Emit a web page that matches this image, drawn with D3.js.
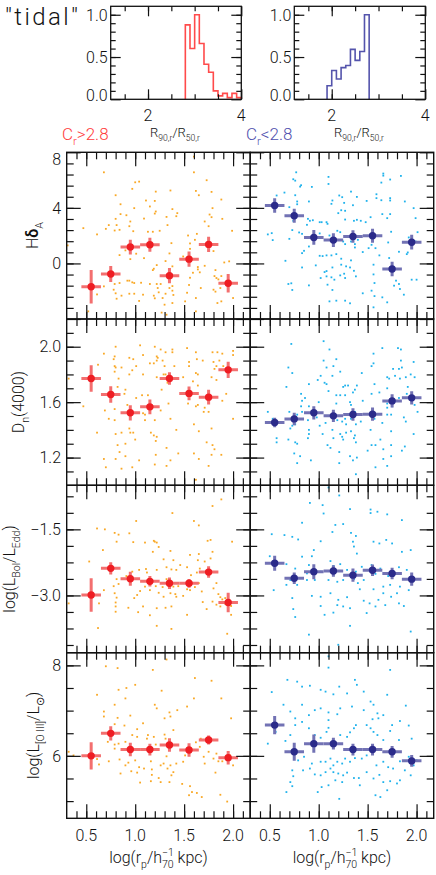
<!DOCTYPE html>
<html><head><meta charset="utf-8">
<script src="https://cdn.jsdelivr.net/npm/d3@7"></script>
<style>
body{margin:0;background:#fff}
svg{display:block}
text{font-family:Roboto,"DejaVu Sans","Liberation Sans",sans-serif;font-weight:300;fill:#111}
</style>
</head><body>
<svg id="c" width="436" height="875"></svg>
<script>
// ================= DATA =================
const binX = [0.55,0.75,0.95,1.15,1.35,1.55,1.75,1.95];
const binHalf = [0.1,0.1,0.1,0.1,0.1,0.1,0.1,0.1];

const hdRedMean = [-1.68,-0.76,1.18,1.34,-0.88,0.31,1.37,-1.43];
const hdRedErr  = [1.2,0.57,0.53,0.5,0.55,0.55,0.55,0.67];
const hdBlueMean= [4.17,3.43,1.87,1.68,1.94,1.99,-0.40,1.53];
const hdBlueErr = [0.53,0.5,0.53,0.5,0.45,0.5,0.53,0.53];
const dnRedMean = [1.771,1.655,1.523,1.566,1.771,1.663,1.636,1.833];
const dnRedErr  = [0.096,0.06,0.055,0.053,0.045,0.05,0.053,0.058];
const dnBlueMean= [1.453,1.479,1.523,1.501,1.511,1.513,1.609,1.631];
const dnBlueErr = [0.035,0.045,0.048,0.045,0.045,0.048,0.048,0.048];
const edRedMean = [-2.99,-2.385,-2.62,-2.68,-2.725,-2.725,-2.47,-3.16];
const edRedErr  = [0.38,0.14,0.16,0.12,0.13,0.1,0.13,0.22];
const edBlueMean= [-2.27,-2.61,-2.46,-2.445,-2.54,-2.43,-2.50,-2.63];
const edBlueErr = [0.17,0.13,0.17,0.13,0.15,0.13,0.13,0.15];
const o3RedMean = [6.0,6.497,6.14,6.14,6.24,6.13,6.35,5.96];
const o3RedErr  = [0.3,0.16,0.15,0.13,0.15,0.15,0.1,0.15];
const o3BlueMean= [6.68,6.09,6.27,6.27,6.14,6.14,6.09,5.89];
const o3BlueErr = [0.2,0.2,0.2,0.13,0.13,0.13,0.13,0.13];

const histRedEdges = [2.8,2.9,3.0,3.1,3.2,3.3,3.4,3.5,3.6,3.7,3.8,3.9,4.0];
const histRedFrac  = [0.88,0.60,1.0,0.66,0.415,0.32,0.10,0.04,0.07,0.02,0.07,0.02];
const histBlueEdges= [1.9,2.0,2.1,2.2,2.3,2.4,2.5,2.6,2.7,2.8];
const histBlueFrac = [0.16,0.34,0.24,0.375,0.40,0.59,0.46,0.565,1.0];

const xMajor = [0.5,1.0,1.5,2.0];
const xTickLabels = ["0.5","1.0","1.5","2.0"];
const hdMajor = [-4,0,4,8];   const hdTickVals=[8,4,0];         const hdTickLabels=["8","4","0"];
const dnMajor = [1.2,1.6,2.0]; const dnTickVals=[2.0,1.6,1.2];  const dnTickLabels=["2.0","1.6","1.2"];
const edMajor = [-3.0,-1.5];  const edTickVals=[-1.5,-3.0];     const edTickLabels=["\u22121.5","\u22123.0"];
const o3Major = [6,8];        const o3TickVals=[8,6];           const o3TickLabels=["8","6"];
const histYVals=[1.0,0.5,0.0]; const histYLabels=["1.0","0.5","0.0"];
const histXVals=[2,4];         const histXLabels=["2","4"];

const hdRedPts = [[1.60,7.69],[0.68,6.56],[1.60,6.56],[1.00,5.84],[1.04,5.89],[1.73,5.99],[0.97,5.37],[1.21,5.17],[1.36,5.25],[1.62,5.22],[1.78,5.15],[0.80,4.91],[1.65,4.91],[1.11,4.53],[1.20,4.50],[1.88,4.60],[0.85,4.26],[1.15,4.10],[0.99,3.98],[1.38,3.91],[1.79,3.98],[1.21,3.74],[1.20,3.59],[0.91,3.47],[0.85,3.55],[1.43,3.62],[0.80,3.21],[1.09,3.23],[1.32,3.35],[1.42,3.40],[1.76,3.52],[1.89,3.21],[0.95,3.02],[1.71,3.02],[1.78,3.33],[0.73,2.76],[0.81,2.76],[0.84,2.42],[0.79,2.37],[0.94,2.68],[1.33,2.76],[1.75,2.68],[0.47,2.54],[0.70,2.49],[0.98,2.32],[1.13,2.28],[1.18,2.28],[1.25,2.35],[1.63,2.13],[1.99,2.35],[0.61,2.09],[1.54,2.01],[1.61,1.70],[1.56,1.44],[1.37,1.46],[1.01,0.70],[1.35,0.72],[1.09,0.38],[1.49,0.50],[0.84,0.60],[0.90,0.94],[1.56,1.05],[1.80,0.89],[0.95,0.31],[1.22,-0.12],[1.31,0.17],[1.19,-0.38],[1.18,-0.48],[1.38,-0.21],[1.64,-0.26],[1.64,-0.43],[1.71,-0.17],[1.59,-0.67],[1.66,-0.64],[1.91,0.07],[1.96,0.15],[1.82,-0.48],[1.81,-0.91],[1.83,-1.05],[1.85,-1.15],[0.68,-1.65],[0.79,-1.48],[0.82,-0.77],[0.92,-1.24],[0.94,-1.24],[0.97,-1.36],[0.99,-1.41],[0.84,-1.41],[1.06,-1.39],[1.15,-1.48],[1.22,-1.48],[1.26,-1.48],[1.38,-1.63],[1.56,-1.03],[1.55,-1.55],[1.88,-0.91],[0.61,-2.23],[0.78,-1.89],[0.80,-2.15],[0.86,-2.32],[0.94,-2.18],[0.99,-2.18],[1.08,-2.25],[1.19,-2.32],[1.23,-1.77],[1.24,-2.08],[1.31,-2.18],[1.35,-1.77],[1.38,-1.96],[1.39,-2.27],[1.53,-2.11],[1.67,-1.77],[1.80,-1.89],[1.82,-2.03],[1.87,-1.77],[1.28,-2.49],[1.20,-2.51],[1.30,-2.97],[1.38,-2.85],[0.81,-2.54],[1.04,-2.70],[1.51,-2.73],[1.62,-2.49],[1.88,-2.73],[2.00,-2.49],[1.84,-2.85],[0.52,-3.45],[1.27,-3.54],[1.32,-3.69],[1.62,-3.45],[0.31,1.30]];

const hdBluePts = [[0.77,6.56],[0.74,6.06],[0.76,5.96],[0.81,5.53],[0.82,5.63],[0.93,5.51],[1.10,6.23],[1.10,5.72],[1.66,6.47],[1.66,6.32],[1.84,6.30],[1.73,6.04],[1.64,5.82],[0.65,5.10],[0.57,4.89],[0.76,4.91],[0.90,4.46],[0.78,4.46],[0.78,4.26],[0.70,4.05],[1.13,4.29],[1.14,4.53],[1.21,4.89],[1.24,4.77],[1.33,5.17],[1.39,4.79],[1.26,4.36],[1.35,4.19],[1.27,3.79],[1.23,3.83],[1.20,3.62],[1.49,4.50],[1.59,4.98],[1.59,4.70],[1.64,4.55],[1.73,4.70],[1.73,4.53],[1.88,4.46],[1.97,3.98],[1.99,3.26],[1.73,3.55],[1.65,3.55],[1.70,3.26],[1.53,3.33],[1.48,2.97],[1.43,3.07],[1.39,3.14],[1.36,3.07],[1.27,3.16],[1.01,2.97],[1.03,2.97],[1.08,2.97],[1.09,2.85],[0.94,3.11],[0.89,3.21],[0.91,3.07],[0.74,3.07],[0.88,2.78],[0.73,2.40],[0.80,2.23],[0.83,2.13],[0.52,2.18],[0.48,2.09],[0.53,1.68],[0.70,1.77],[1.01,2.16],[1.19,2.35],[1.22,2.25],[1.11,2.01],[1.25,1.58],[1.27,1.39],[1.33,1.58],[1.37,1.39],[1.37,1.15],[1.40,1.70],[1.45,0.82],[1.54,1.34],[1.58,1.10],[1.51,1.10],[1.71,1.51],[1.74,2.28],[1.82,0.84],[1.90,0.67],[1.91,0.79],[1.92,1.87],[2.01,2.25],[1.99,1.58],[0.85,0.91],[0.83,0.74],[0.90,1.22],[1.01,0.55],[1.04,0.53],[1.08,0.58],[1.13,0.58],[1.18,0.67],[1.23,0.34],[1.33,0.22],[1.14,-0.29],[1.28,-0.21],[1.23,-0.09],[1.32,-0.29],[1.36,-0.53],[1.16,-1.17],[1.08,-0.93],[1.06,-0.62],[1.08,-0.55],[1.13,-1.00],[1.02,-1.05],[1.22,-0.86],[1.26,-0.74],[1.27,-1.05],[1.38,-0.93],[1.56,-0.09],[1.62,0.58],[1.72,0.39],[1.56,-0.79],[1.57,-1.41],[1.77,-1.60],[1.79,-1.24],[1.82,-1.48],[1.83,-1.84],[1.87,-2.25],[1.95,-1.17],[2.00,-1.17],[0.83,-0.29],[0.97,-0.14],[0.66,0.19],[0.69,-1.48],[0.72,-1.43],[0.73,-1.91],[0.90,-1.58],[1.09,-1.53],[1.14,-1.91],[1.11,-2.73],[1.18,-2.68],[1.27,-2.68],[1.32,-2.87],[1.45,-2.15],[1.54,-1.96],[1.57,-2.35],[1.65,-2.44],[1.70,-2.80],[1.56,-3.16]];

const dnRedPts = [[1.05,2.01],[1.20,2.00],[1.26,1.98],[0.80,2.00],[1.38,1.98],[1.53,1.99],[0.68,1.95],[0.79,1.93],[0.78,1.91],[1.08,1.94],[1.22,1.93],[1.23,1.92],[1.22,1.90],[1.31,1.96],[1.38,1.96],[1.62,1.96],[1.79,1.96],[1.84,1.96],[1.89,1.95],[2.00,1.97],[2.00,1.94],[0.94,1.92],[0.98,1.91],[1.19,1.88],[1.28,1.90],[1.55,1.89],[1.63,1.91],[1.69,1.90],[1.80,1.89],[1.86,1.90],[0.62,1.87],[0.79,1.86],[0.80,1.85],[0.86,1.85],[1.01,1.86],[0.97,1.83],[0.94,1.80],[0.79,1.82],[1.15,1.88],[1.30,1.86],[1.31,1.80],[1.40,1.86],[1.55,1.86],[1.62,1.81],[1.64,1.80],[1.83,1.86],[1.81,1.84],[1.90,1.86],[1.08,1.80],[1.22,1.78],[1.29,1.80],[1.49,1.78],[1.78,1.78],[1.83,1.76],[0.83,1.77],[1.33,1.74],[1.59,1.75],[1.64,1.72],[0.82,1.71],[0.90,1.69],[0.89,1.66],[1.01,1.63],[1.07,1.65],[1.13,1.65],[1.27,1.69],[1.34,1.59],[1.54,1.59],[1.62,1.57],[1.64,1.58],[1.71,1.56],[1.70,1.53],[1.75,1.53],[1.89,1.61],[1.93,1.66],[2.00,1.48],[0.47,1.57],[0.69,1.54],[0.79,1.55],[0.92,1.58],[0.73,1.48],[0.79,1.47],[1.08,1.52],[1.10,1.51],[1.20,1.47],[1.10,1.47],[1.26,1.54],[1.36,1.48],[1.60,1.44],[1.78,1.41],[1.42,1.40],[1.65,1.39],[0.61,1.38],[0.80,1.37],[0.86,1.38],[0.94,1.41],[0.95,1.38],[0.98,1.38],[1.16,1.38],[1.19,1.36],[1.22,1.35],[1.21,1.32],[0.82,1.29],[0.90,1.30],[1.00,1.33],[1.73,1.31],[1.79,1.29],[1.81,1.26],[0.84,1.24],[0.90,1.21],[1.44,1.23],[1.60,1.23],[1.32,1.27],[1.65,1.19],[1.88,1.22],[1.78,1.22],[0.68,1.19],[0.80,1.19],[1.04,1.18],[1.21,1.22],[1.36,1.18],[1.20,1.15],[1.32,1.14],[1.75,1.14],[0.70,1.13],[0.86,1.12],[0.97,1.13],[1.62,1.04],[0.32,1.77]];

const dnBluePts = [[1.05,2.04],[0.72,2.02],[1.11,1.98],[1.65,1.99],[1.81,1.99],[1.84,1.98],[1.56,1.95],[1.84,1.90],[1.97,1.89],[1.18,1.91],[1.05,1.90],[1.15,1.86],[1.08,1.85],[0.69,1.85],[0.73,1.81],[1.56,1.88],[1.54,1.86],[1.76,1.84],[1.82,1.84],[1.85,1.85],[1.22,1.82],[1.44,1.81],[1.02,1.79],[1.14,1.79],[0.99,1.76],[1.06,1.74],[1.08,1.73],[0.90,1.73],[0.67,1.71],[1.27,1.72],[1.25,1.71],[1.30,1.72],[1.39,1.72],[1.37,1.69],[1.35,1.67],[1.57,1.73],[1.70,1.78],[1.72,1.77],[1.78,1.79],[1.83,1.77],[1.89,1.78],[1.94,1.80],[1.98,1.78],[1.70,1.70],[1.91,1.71],[1.82,1.63],[1.90,1.66],[0.82,1.66],[0.86,1.63],[0.83,1.61],[1.00,1.60],[1.10,1.68],[1.18,1.65],[1.22,1.65],[1.27,1.65],[1.32,1.60],[1.33,1.58],[1.45,1.61],[1.54,1.66],[1.62,1.67],[1.70,1.59],[1.70,1.56],[1.75,1.57],[1.98,1.58],[2.01,1.53],[0.48,1.53],[0.70,1.53],[0.82,1.57],[0.90,1.57],[0.83,1.53],[0.78,1.51],[0.89,1.47],[0.98,1.49],[1.18,1.59],[1.19,1.47],[1.24,1.46],[1.27,1.48],[1.28,1.44],[1.33,1.48],[1.37,1.53],[1.38,1.44],[1.43,1.46],[1.57,1.48],[1.65,1.45],[1.70,1.51],[1.74,1.51],[1.87,1.49],[1.89,1.46],[0.53,1.48],[0.71,1.41],[0.73,1.43],[0.76,1.44],[0.90,1.40],[0.90,1.37],[0.89,1.34],[1.01,1.43],[1.07,1.45],[1.04,1.37],[1.14,1.40],[1.15,1.34],[1.22,1.37],[1.24,1.35],[1.28,1.38],[1.33,1.39],[1.37,1.36],[1.36,1.34],[1.38,1.31],[1.53,1.40],[1.74,1.39],[1.97,1.37],[0.57,1.34],[0.57,1.31],[0.69,1.33],[0.76,1.31],[0.78,1.30],[0.75,1.23],[0.81,1.21],[0.78,1.16],[0.92,1.18],[1.09,1.29],[1.12,1.27],[1.21,1.24],[1.25,1.33],[1.32,1.21],[1.35,1.18],[1.39,1.20],[1.50,1.25],[1.54,1.29],[1.58,1.29],[1.63,1.33],[1.66,1.26],[1.66,1.19],[1.74,1.29],[1.74,1.21],[1.85,1.25],[1.88,1.28],[1.21,1.16],[1.58,1.13],[1.70,1.14],[1.38,1.08]];

const edRedPts = [[0.61,-1.48],[0.69,-1.50],[0.53,-2.23],[0.67,-1.97],[0.79,-1.58],[0.83,-1.62],[0.81,-1.78],[0.98,-1.79],[0.94,-1.59],[1.01,-1.31],[1.10,-1.80],[1.19,-1.76],[1.20,-1.78],[1.22,-1.80],[1.24,-1.90],[1.38,-1.13],[1.36,-1.99],[1.18,-2.01],[1.29,-2.18],[1.39,-2.20],[1.60,-1.31],[1.65,-1.41],[1.79,-0.97],[1.88,-0.82],[1.74,-1.76],[1.77,-1.74],[1.79,-2.01],[1.77,-2.16],[1.71,-2.23],[1.64,-2.20],[1.65,-2.06],[1.56,-2.08],[1.63,-2.48],[1.66,-2.39],[1.57,-2.54],[1.53,-2.36],[1.46,-2.31],[1.42,-2.42],[1.37,-2.41],[1.32,-2.36],[1.22,-2.42],[1.11,-2.40],[1.12,-2.48],[1.04,-2.42],[0.97,-2.46],[0.91,-2.56],[0.81,-2.63],[0.83,-2.74],[0.78,-2.79],[0.79,-2.95],[0.81,-3.05],[0.80,-3.16],[0.68,-2.88],[0.63,-3.18],[0.62,-3.74],[0.80,-3.25],[0.80,-3.37],[0.93,-3.28],[0.99,-3.06],[1.02,-2.99],[1.05,-2.90],[1.10,-2.80],[1.15,-2.88],[1.21,-2.79],[1.24,-2.94],[1.28,-2.81],[1.29,-3.03],[1.36,-2.95],[1.32,-2.63],[1.41,-2.97],[1.39,-2.80],[1.44,-2.79],[1.53,-2.86],[1.56,-2.88],[1.61,-2.81],[1.57,-2.72],[1.65,-2.72],[1.68,-2.91],[1.80,-2.84],[1.83,-2.72],[1.85,-2.97],[1.87,-3.04],[1.89,-3.09],[1.92,-3.06],[1.83,-3.21],[1.92,-3.19],[1.87,-3.25],[1.98,-3.24],[1.98,-3.44],[1.79,-3.14],[1.69,-3.15],[1.73,-3.31],[1.42,-3.03],[1.37,-3.25],[1.49,-3.01],[1.53,-3.44],[1.31,-3.28],[1.22,-3.29],[1.15,-3.45],[1.22,-3.69],[1.37,-3.76],[1.94,-3.87],[1.77,-2.47],[1.73,-2.44],[1.03,-3.38],[1.08,-3.25],[0.32,-3.18],[1.99,-1.78]];

const edBluePts = [[1.10,-0.55],[1.21,-0.73],[0.91,-0.90],[1.04,-0.95],[1.32,-1.04],[1.53,-1.05],[1.60,-1.10],[1.70,-1.16],[1.85,-1.29],[1.53,-1.13],[0.83,-1.35],[1.05,-1.14],[1.17,-1.40],[1.25,-1.38],[0.52,-1.61],[0.65,-1.63],[0.73,-1.67],[0.79,-1.73],[0.95,-1.97],[1.02,-1.77],[1.14,-1.56],[1.33,-1.58],[1.38,-1.65],[1.35,-1.78],[1.36,-1.89],[1.39,-2.05],[1.56,-1.78],[1.62,-1.82],[1.69,-1.74],[1.75,-1.82],[1.85,-2.01],[1.94,-1.97],[0.50,-2.11],[0.67,-2.29],[0.76,-2.39],[0.83,-2.12],[0.90,-2.31],[0.93,-2.11],[0.88,-2.50],[1.02,-2.46],[1.12,-2.22],[1.15,-2.33],[1.22,-2.29],[1.29,-2.42],[1.38,-2.46],[1.44,-2.35],[1.54,-2.31],[1.58,-2.51],[1.63,-2.39],[1.71,-2.56],[1.82,-2.36],[1.90,-2.42],[0.54,-2.88],[0.67,-2.76],[0.71,-2.65],[0.78,-2.76],[0.88,-2.65],[0.96,-2.65],[1.10,-2.65],[1.19,-2.69],[1.25,-2.65],[1.36,-2.63],[1.40,-2.72],[1.46,-2.65],[1.56,-2.86],[1.66,-2.80],[1.73,-2.76],[1.83,-2.80],[1.92,-2.88],[0.73,-3.06],[0.74,-3.31],[0.93,-3.01],[1.02,-3.03],[1.12,-2.95],[1.20,-3.10],[1.29,-3.04],[1.42,-2.86],[1.46,-3.12],[1.52,-3.18],[1.61,-3.10],[1.66,-2.95],[1.68,-3.22],[1.74,-3.03],[1.80,-2.95],[1.82,-3.18],[1.87,-3.24],[1.58,-3.25],[1.49,-3.40],[1.32,-3.29],[1.25,-3.25],[1.19,-3.22],[1.06,-3.44],[1.15,-3.39],[1.02,-3.24],[0.76,-3.49],[1.32,-3.69],[0.90,-3.89],[1.20,-4.12],[1.94,-3.82]];

const o3RedPts = [[0.70,7.98],[0.82,7.94],[1.32,8.13],[0.61,7.35],[0.68,6.98],[0.68,6.87],[0.79,7.13],[0.83,7.46],[0.91,7.50],[0.90,7.27],[1.00,7.57],[0.95,6.89],[0.89,6.67],[0.82,6.84],[0.79,6.70],[1.18,7.90],[1.20,7.13],[1.22,7.05],[1.27,7.44],[1.30,6.83],[1.35,6.96],[1.36,6.87],[1.43,7.01],[1.39,6.57],[1.30,6.47],[1.31,6.38],[1.21,6.25],[1.13,6.46],[1.12,6.38],[1.02,6.42],[0.97,6.46],[1.02,6.59],[1.08,6.72],[0.90,6.31],[0.83,6.27],[0.79,6.25],[0.72,6.31],[0.61,5.93],[0.63,5.81],[0.73,5.88],[0.84,5.92],[0.93,5.85],[0.90,5.79],[1.00,5.90],[0.96,5.66],[1.02,5.63],[1.04,5.75],[1.09,5.72],[1.17,5.70],[1.17,5.58],[1.24,5.51],[1.26,5.79],[1.29,5.83],[1.32,5.99],[1.33,5.72],[1.36,5.79],[1.37,5.57],[1.39,5.64],[1.42,5.83],[1.49,5.87],[1.51,6.01],[1.55,6.24],[1.62,6.30],[1.66,6.20],[1.67,6.38],[1.70,5.98],[1.60,7.27],[1.61,7.72],[1.78,7.66],[1.88,7.27],[1.98,6.83],[1.71,5.83],[1.75,6.09],[1.80,5.94],[1.83,6.05],[1.85,5.88],[1.89,5.88],[1.97,6.01],[2.00,5.79],[1.16,5.88],[0.85,5.61],[1.05,5.41],[1.16,5.44],[1.26,5.42],[1.35,5.42],[1.56,5.33],[1.58,5.20],[1.63,5.18],[1.68,5.09],[1.55,5.13],[1.48,5.38],[1.82,5.63],[1.87,5.14],[1.94,4.99],[0.37,6.01],[0.32,6.09],[0.79,6.16],[1.53,7.09],[1.19,6.42]];

const o3BluePts = [[1.10,8.20],[1.10,7.95],[0.52,7.41],[0.68,7.68],[0.78,7.64],[0.83,7.53],[0.91,7.55],[1.02,7.46],[1.07,7.42],[1.15,7.36],[1.21,7.53],[1.37,7.68],[1.39,7.57],[1.29,7.38],[1.46,7.42],[1.70,7.35],[1.73,7.90],[0.64,7.13],[0.71,6.98],[0.76,6.83],[0.83,7.13],[0.96,7.01],[0.90,6.90],[1.02,7.05],[1.10,6.96],[1.19,6.92],[1.22,7.05],[1.34,7.09],[1.46,7.01],[1.53,7.20],[1.56,7.13],[1.60,6.94],[1.61,6.83],[1.66,6.90],[1.55,6.81],[1.75,6.68],[1.83,6.77],[1.89,7.11],[1.92,6.67],[1.49,6.68],[1.53,6.61],[1.56,6.53],[1.60,6.46],[1.66,6.35],[1.73,6.55],[1.82,6.35],[1.95,6.38],[1.38,6.68],[1.36,6.61],[1.32,6.52],[1.29,6.42],[1.22,6.46],[1.10,6.79],[1.10,6.62],[1.08,6.53],[1.02,6.40],[0.96,6.46],[0.90,6.61],[0.83,6.75],[0.76,6.68],[0.71,6.46],[0.66,6.33],[0.56,6.53],[0.48,6.27],[0.74,6.10],[0.79,5.90],[0.85,5.98],[0.93,5.83],[1.02,5.87],[1.07,5.87],[1.12,5.94],[1.15,5.79],[1.19,5.87],[1.24,5.83],[1.27,5.94],[1.32,5.87],[1.37,5.95],[1.44,5.94],[1.49,6.01],[1.59,5.79],[1.66,5.87],[1.71,5.75],[1.76,5.72],[1.83,5.88],[1.92,5.98],[1.97,5.79],[2.00,5.90],[0.73,5.68],[0.74,5.55],[0.71,5.42],[0.73,5.33],[0.67,5.20],[0.84,5.68],[0.91,5.72],[0.96,5.59],[1.02,5.57],[1.07,5.64],[1.12,5.72],[1.15,5.64],[1.20,5.61],[1.25,5.57],[1.29,5.63],[1.36,5.51],[1.41,5.51],[1.42,5.35],[1.24,5.42],[1.17,5.46],[1.10,5.35],[1.03,5.31],[1.49,5.64],[1.56,5.50],[1.62,5.58],[1.66,5.42],[1.70,5.24],[1.73,5.44],[1.80,5.39],[1.83,5.46],[1.88,5.68],[1.94,5.57],[1.58,5.13],[1.63,5.09],[1.21,5.05],[0.99,5.20]];

// ================= LAYOUT / STYLE =================
const svg = d3.select("#c");
const COL = [[66.7,250.2],[250.2,433.7]];
const ROWS = [[152.3,319],[319,485.3],[485.3,652.7],[652.7,818.3]];
const XDOM = [0.3,2.175];
const RED_PT="#f9a825", BLUE_PT="#1fb2ec";
const RED_DOT="#ee1d23", RED_ERR="#f36f6f";
const BLUE_DOT="#2b2b8a", BLUE_ERR="#7272b4";

function minorVals(dom, step, base){
  const lo=Math.min(dom[0],dom[1]), hi=Math.max(dom[0],dom[1]);
  const out=[];
  for(let k=Math.ceil((lo-base)/step-1e-6); base+k*step<=hi+1e-9; k++) out.push(+(base+k*step).toFixed(6));
  return out.filter(v=>v>lo+1e-6 && v<hi-1e-6);
}
function styleAxis(s, w){
  s.select(".domain").remove();
  s.selectAll("text").remove();
  s.selectAll("line").attr("stroke","#111").attr("stroke-width",w||1.2);
}
function inwardTicks(g, x, y, xVals, yVals, len){
  const [x0,x1]=x.range(), [y0,y1]=y.range();
  g.append("g").attr("transform",`translate(0,${y0})`).call(d3.axisBottom(x).tickValues(xVals).tickSize(-len).tickSizeOuter(0)).call(styleAxis);
  g.append("g").attr("transform",`translate(0,${y1})`).call(d3.axisTop(x).tickValues(xVals).tickSize(-len).tickSizeOuter(0)).call(styleAxis);
  g.append("g").attr("transform",`translate(${x0},0)`).call(d3.axisLeft(y).tickValues(yVals).tickSize(-len).tickSizeOuter(0)).call(styleAxis);
  g.append("g").attr("transform",`translate(${x1},0)`).call(d3.axisRight(y).tickValues(yVals).tickSize(-len).tickSizeOuter(0)).call(styleAxis);
}
function rich(t, parts, size){
  let shift=0;
  parts.forEach(p=>{
    const s = p.sub ? size*0.32 : (p.sup ? -size*0.42 : 0);
    const ts=t.append("tspan").text(p.t).attr("dy",(s-shift).toFixed(2))
      .attr("font-size",(p.sub||p.sup)? size*0.66 : size);
    if(p.dx) ts.attr("dx",p.dx);
    if(p.bold) ts.attr("font-weight",600);
    shift=s;
  });
  return t;
}

// ================= TITLE =================
svg.append("text").attr("x",5).attr("y",25).attr("font-size",24).attr("letter-spacing",2.4).text("\"tidal\"");

// ================= HISTOGRAMS =================
const HIST_XDOM=[1.2,4.0], HIST_YDOM=[0,1.1];
function drawHist(xr, edges, frac, color, labelRight){
  const g=svg.append("g");
  const x=d3.scaleLinear().domain(HIST_XDOM).range(xr);
  const y=d3.scaleLinear().domain(HIST_YDOM).range([99.3,6.3]);
  const pts=[[edges[0],0]];
  frac.forEach((v,i)=>{pts.push([edges[i],v]);pts.push([edges[i+1],v]);});
  pts.push([edges[edges.length-1],0]);
  g.append("path").attr("d",d3.line().x(d=>x(d[0])).y(d=>y(d[1]))(pts))
    .attr("fill","none").attr("stroke",color).attr("stroke-width",1.6);
  inwardTicks(g,x,y,minorVals(HIST_XDOM,0.5,0),minorVals(HIST_YDOM,0.1,0),5);
  inwardTicks(g,x,y,histXVals,[0,0.5,1.0],10);
  g.append("rect").attr("x",xr[0]).attr("y",6.3).attr("width",xr[1]-xr[0]).attr("height",93)
    .attr("fill","none").attr("stroke","#111").attr("stroke-width",1.3);
  histYVals.forEach((v,i)=>{
    const yy=Math.max(6.3+7,Math.min(99.3-4,y(v)));
    g.append("text").attr("x",xr[0]-3).attr("y",yy).attr("dy","0.36em").attr("text-anchor","end")
      .attr("font-size",16).text(histYLabels[i]);
  });
  histXVals.forEach((v,i)=>{
    g.append("text").attr("x",x(v)).attr("y",121).attr("text-anchor","middle").attr("font-size",16).text(histXLabels[i]);
  });
  const lab=g.append("text").attr("x",labelRight).attr("y",137).attr("text-anchor","middle");
  rich(lab,[{t:"R"},{t:"90,r",sub:true},{t:"/R"},{t:"50,r",sub:true}],13);
}
drawHist([110.7,241.3],histRedEdges,histRedFrac,"#ff4b4b",175);
drawHist([294.3,425.3],histBlueEdges,histBlueFrac,"#5454ac",359);

rich(svg.append("text").attr("x",62).attr("y",139.5).style("fill","#ff3b3b"),
  [{t:"C"},{t:"r",sub:true},{t:">2.8"}],17).selectAll("tspan").style("fill","#ff3b3b");
rich(svg.append("text").attr("x",246).attr("y",139.5).style("fill","#4f4fae"),
  [{t:"C"},{t:"r",sub:true},{t:"<2.8"}],17).selectAll("tspan").style("fill","#4f4fae");

// ================= MAIN PANELS =================
const rowCfg = [
  {dom:[-4,8], maj:hdMajor, minStep:0.8, minBase:0, tv:hdTickVals, tl:hdTickLabels, tx:38,
   title:[{t:"H"},{t:"\u03b4",bold:true},{t:"A",sub:true}],
   red:[hdRedPts,hdRedMean,hdRedErr], blue:[hdBluePts,hdBlueMean,hdBlueErr]},
  {dom:[1.0,2.2], maj:dnMajor, minStep:0.1, minBase:0, tv:dnTickVals, tl:dnTickLabels, tx:23.5,
   title:[{t:"D"},{t:"n",sub:true},{t:"(4000)"}],
   red:[dnRedPts,dnRedMean,dnRedErr], blue:[dnBluePts,dnBlueMean,dnBlueErr]},
  {dom:[-4.3,-0.5], maj:edMajor, minStep:0.375, minBase:-1.5, tv:edTickVals, tl:edTickLabels, tx:14.5,
   title:[{t:"log(L"},{t:"Bol",sub:true},{t:"/L"},{t:"Edd",sub:true},{t:")"}],
   red:[edRedPts,edRedMean,edRedErr], blue:[edBluePts,edBlueMean,edBlueErr]},
  {dom:[4.62,8.28], maj:o3Major, minStep:0.5, minBase:0, tv:o3TickVals, tl:o3TickLabels, tx:38.5,
   title:[{t:"log(L"},{t:"[O III]",sub:true},{t:"/L"},{t:"\u2299",sub:true},{t:")"}],
   red:[o3RedPts,o3RedMean,o3RedErr], blue:[o3BluePts,o3BlueMean,o3BlueErr]}
];

const defs=svg.append("defs");
rowCfg.forEach((rc,ri)=>{
  const [top,bot]=ROWS[ri];
  [0,1].forEach(ci=>{
    const xr=COL[ci];
    const x=d3.scaleLinear().domain(XDOM).range(xr);
    const y=d3.scaleLinear().domain(rc.dom).range([bot,top]);
    const g=svg.append("g");
    const cid=`clip${ri}${ci}`;
    defs.append("clipPath").attr("id",cid).append("rect")
      .attr("x",xr[0]).attr("y",top).attr("width",xr[1]-xr[0]).attr("height",bot-top);
    const [pts,mean,err]= ci===0? rc.red : rc.blue;
    const ptCol = ci===0? RED_PT: BLUE_PT;
    const dotCol= ci===0? RED_DOT: BLUE_DOT;
    const errCol= ci===0? RED_ERR: BLUE_ERR;
    const sc=g.append("g").attr("clip-path",`url(#${cid})`);
    sc.selectAll("rect.pt").data(pts).join("rect").attr("class","pt")
      .attr("x",d=>x(d[0])-0.9).attr("y",d=>y(d[1])-0.9).attr("width",1.8).attr("height",1.8)
      .attr("fill",ptCol);
    const eb=sc.append("g").attr("stroke",errCol).attr("stroke-width",3);
    binX.forEach((bx,i)=>{
      eb.append("line").attr("x1",x(bx-binHalf[i])).attr("x2",x(bx+binHalf[i])).attr("y1",y(mean[i])).attr("y2",y(mean[i]));
      eb.append("line").attr("x1",x(bx)).attr("x2",x(bx)).attr("y1",y(mean[i]-err[i])).attr("y2",y(mean[i]+err[i]));
    });
    sc.selectAll("circle.m").data(binX).join("circle").attr("class","m")
      .attr("cx",d=>x(d)).attr("cy",(d,i)=>y(mean[i])).attr("r",3.7).attr("fill",dotCol);
    inwardTicks(g,x,y,minorVals(XDOM,0.1,0),minorVals(rc.dom,rc.minStep,rc.minBase),7);
    inwardTicks(g,x,y,xMajor,rc.maj,14);
    g.append("rect").attr("x",xr[0]).attr("y",top).attr("width",xr[1]-xr[0]).attr("height",bot-top)
      .attr("fill","none").attr("stroke","#111").attr("stroke-width",1.4);
    if(ci===0){
      rc.tv.forEach((v,i)=>{
        const yy=Math.max(top+7,Math.min(bot-4,y(v)));
        g.append("text").attr("x",61).attr("y",yy).attr("dy","0.36em").attr("text-anchor","end")
          .attr("font-size",16).text(rc.tl[i]);
      });
      const t=g.append("text").attr("transform",`translate(${rc.tx},${(top+bot)/2}) rotate(-90)`).attr("text-anchor","middle");
      rich(t,rc.title,16);
    }
    if(ri===3){
      xMajor.forEach((v,i)=>{
        g.append("text").attr("x",x(v)).attr("y",841).attr("text-anchor","middle").attr("font-size",16).text(xTickLabels[i]);
      });
      const t=g.append("text").attr("x",(xr[0]+xr[1])/2).attr("y",863).attr("text-anchor","middle");
      rich(t,[{t:"log(r"},{t:"p",sub:true},{t:"/h"},{t:"\u22121",sup:true},{t:"70",sub:true,dx:-12},{t:" kpc)"}],16);
    }
  });
});
</script>
</body></html>
